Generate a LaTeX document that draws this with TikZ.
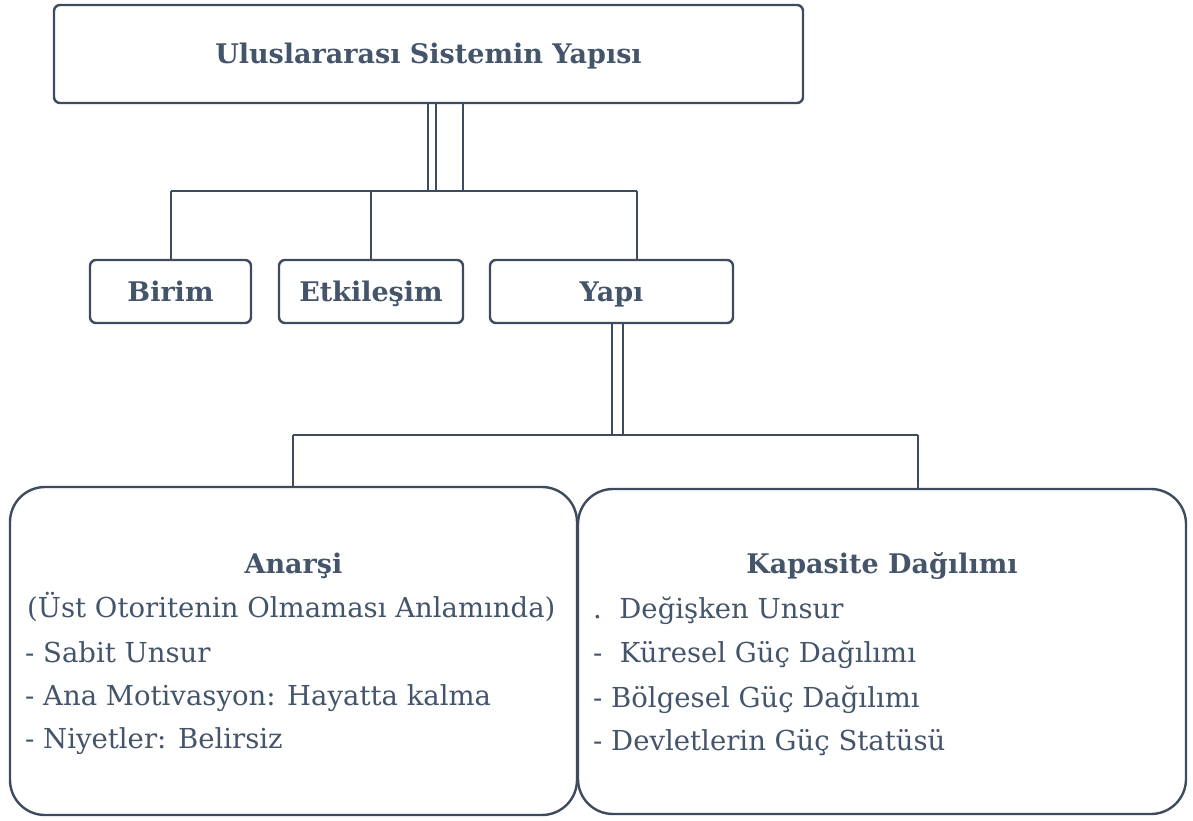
\documentclass[tikz,border=0pt]{standalone}
\usepackage{fontspec}
\setmainfont{DejaVu Serif}
\definecolor{ink}{HTML}{44546A}
\definecolor{edge}{HTML}{3E4B5E}
\begin{document}
\begin{tikzpicture}[x=1pt,y=-1pt,
  box/.style={draw=edge,line width=2.4pt,rounded corners=6pt,inner sep=0pt},
  bigbox/.style={draw=edge,line width=2.4pt,rounded corners=35pt,inner sep=0pt},
  conn/.style={draw=edge,line width=2.4pt},
  ttl/.style={text=ink,font=\fontsize{27}{30}\selectfont\bfseries,anchor=base,inner sep=0pt},
  txt/.style={text=ink,font=\fontsize{27.5}{30}\selectfont,anchor=base west,inner sep=0pt}]
\useasboundingbox (0,0) rectangle (1193,821);
% boxes
\node[box,minimum width=749pt,minimum height=98pt] (top) at (428.5,54) {};
\node[box,minimum width=161pt,minimum height=63pt] (birim) at (170.5,291.5) {};
\node[box,minimum width=184pt,minimum height=63pt] (etk) at (371,291.5) {};
\node[box,minimum width=243pt,minimum height=63pt] (yapi) at (611.5,291.5) {};
\node[bigbox,minimum width=567pt,minimum height=328pt] (anarsi) at (293.5,651) {};
\node[bigbox,minimum width=608pt,minimum height=325pt] (kap) at (882,651.5) {};
% labels
\node[ttl] (ttop) at (428.5,64) {Uluslararası Sistemin Yapısı};
\node[ttl] (tbirim) at (170.5,301) {Birim};
\node[ttl] (tetk) at (371,301) {Etkileşim};
\node[ttl] (tyapi) at (611.5,301) {Yapı};
\node[ttl] (tanarsi) at (293.5,573) {Anarşi};
\node[ttl] (tkap) at (882,573) {Kapasite Dağılımı};
\node[txt] (a1) at (27,617) {(Üst Otoritenin Olmaması Anlamında)};
\node[txt] (a2) at (25,662) {- Sabit Unsur};
\node[txt] (a3) at (25,705) {- Ana Motivasyon: Hayatta kalma};
\node[txt] (a4) at (25,748) {- Niyetler: Belirsiz};
\node[txt] (k1) at (593,618) {.\ \ Değişken Unsur};
\node[txt] (k2) at (593,662) {-\ \ Küresel Güç Dağılımı};
\node[txt] (k3) at (593,707) {- Bölgesel Güç Dağılımı};
\node[txt] (k4) at (593,750) {- Devletlerin Güç Statüsü};
% connector coordinates
\coordinate (d1) at (428,191);
\coordinate (d2) at (436,191);
\coordinate (d3) at (463,191);
\coordinate (hl) at (171,191);
\coordinate (hm) at (371,191);
\coordinate (hr) at (637,191);
\coordinate (e1) at (612,435);
\coordinate (e2) at (623,435);
\coordinate (gl) at (293,435);
\coordinate (gr) at (918,435);
% connectors
\draw[conn] (top.south -| d1) -- (d1);
\draw[conn] (top.south -| d2) -- (d2);
\draw[conn] (top.south -| d3) -- (d3);
\draw[conn] (hl) -- (hr);
\draw[conn] (hl) -- (birim.north -| hl);
\draw[conn] (hm) -- (etk.north -| hm);
\draw[conn] (hr) -- (yapi.north -| hr);
\draw[conn] (yapi.south -| e1) -- (e1);
\draw[conn] (yapi.south -| e2) -- (e2);
\draw[conn] (gl) -- (gr);
\draw[conn] (gl) -- (anarsi.north -| gl);
\draw[conn] (gr) -- (kap.north -| gr);
\end{tikzpicture}
\end{document}
